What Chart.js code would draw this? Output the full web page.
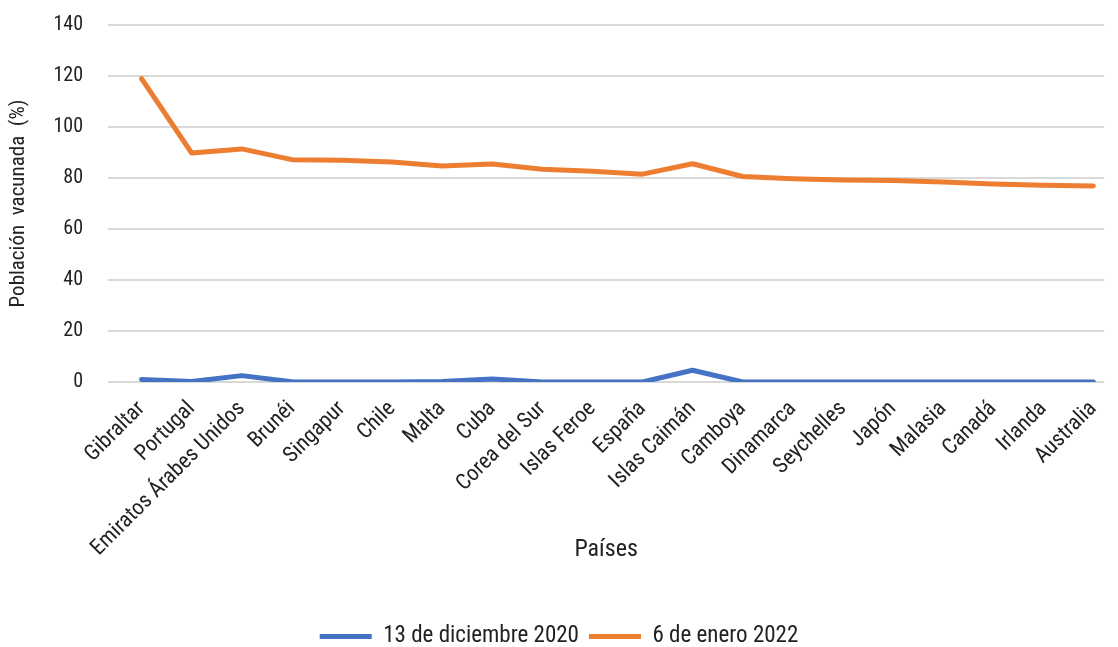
<!DOCTYPE html>
<html>
<head>
<meta charset="utf-8">
<script src="https://cdn.jsdelivr.net/npm/chart.js@4.4.1/dist/chart.umd.min.js"></script>
<style>
  html, body { margin: 0; padding: 0; background: #fff; overflow: hidden; }
  #wrap { width: 1118px; height: 647px; }
</style>
</head>
<body>
<div id="wrap"><canvas id="chart" width="1118" height="647"></canvas></div>
<script>
const countries = ["Gibraltar", "Portugal", "Emiratos Árabes Unidos", "Brunéi", "Singapur", "Chile", "Malta", "Cuba",
	"Corea del Sur", "Islas Feroe", "España", "Islas Caimán", "Camboya", "Dinamarca", "Seychelles", "Japón",
	"Malasia", "Canadá", "Irlanda", "Australia"];

// % población vacunada
const dic2020 = [1.0, 0.2, 2.5, 0.1, 0, 0, 0.2, 1.2, 0, 0, 0, 4.6, 0, 0, 0, 0, 0, 0, 0, 0];
const ene2022 = [119, 89.8, 91.4, 87.2, 87.0, 86.3, 84.7, 85.5, 83.4, 82.6, 81.5, 85.6, 80.6, 79.7, 79.2, 79.0, 78.4, 77.6, 77.2, 76.9];

const yTicks = [0, 20, 40, 60, 80, 100, 120, 140];

const FONT = "'Liberation Sans Narrow', 'Roboto Condensed', 'Arial Narrow', Roboto, sans-serif";
const TEXT = "#222222";

function toPoints(arr) {
	return arr.map((v, i) => ({ x: i, y: v }));
}

// push the legend row down a bit, closer to the bottom edge
const legendShift = {
	id: "legendShift",
	afterLayout(chart) {
		const lg = chart.legend;
		if (lg) {
			lg.top += 7;
			lg.bottom += 7;
		}
	}
};

const ctx = document.getElementById("chart").getContext("2d");
new Chart(ctx, {
	type: "line",
	plugins: [legendShift],
	data: {
		datasets: [
			{
				label: "13 de diciembre 2020",
				data: toPoints(dic2020),
				borderColor: "#4472C4",
				backgroundColor: "#4472C4",
				borderWidth: 5,
				pointRadius: 0,
				borderCapStyle: "round",
				borderJoinStyle: "round"
			},
			{
				label: "6 de enero 2022",
				data: toPoints(ene2022),
				borderColor: "#ED7D31",
				backgroundColor: "#ED7D31",
				borderWidth: 5,
				pointRadius: 0,
				borderCapStyle: "round",
				borderJoinStyle: "round"
			}
		]
	},
	options: {
		responsive: false,
		animation: false,
		layout: { padding: { top: 25, right: 0, left: 0, bottom: -4 } },
		plugins: {
			tooltip: { enabled: false },
			legend: {
				position: "bottom",
				labels: {
					font: { family: FONT, size: 23 },
					color: TEXT,
					boxWidth: 52,
					boxHeight: 5,
					padding: 10,
					generateLabels(chart) {
						return chart.data.datasets.map((ds, i) => ({
							text: ds.label,
							fillStyle: ds.borderColor,
							strokeStyle: ds.borderColor,
							lineWidth: 0,
							fontColor: TEXT,
							datasetIndex: i
						}));
					}
				}
			}
		},
		scales: {
			x: {
				type: "linear",
				min: -0.67,
				max: 19.22,
				afterBuildTicks(scale) {
					scale.ticks = countries.map((c, i) => ({ value: i }));
				},
				afterFit(scale) {
					scale.height = 226;
				},
				grid: { display: false },
				border: { display: false },
				ticks: {
					autoSkip: false,
					maxRotation: 45,
					minRotation: 45,
					padding: 6,
					color: TEXT,
					font: { family: FONT, size: 22 },
					callback: (v) => countries[v]
				},
				title: {
					display: true,
					text: "Países",
					color: TEXT,
					font: { family: FONT, size: 24 },
					padding: { top: 6, bottom: 44 }
				}
			},
			y: {
				min: 0,
				max: 140,
				afterBuildTicks(scale) {
					scale.ticks = yTicks.map((v) => ({ value: v }));
				},
				afterFit(scale) {
					scale.width = 108;
					// keep the plot top where the reference has it
					scale.paddingTop = 0;
					scale.paddingBottom = 0;
				},
				grid: { color: "#D9D9D9", lineWidth: 2, drawTicks: false },
				border: { display: false },
				ticks: {
					padding: 25,
					color: TEXT,
					font: { family: FONT, size: 20 }
				},
				title: {
					display: true,
					text: "Población  vacunada  (%)",
					color: TEXT,
					font: { family: FONT, size: 21 },
					padding: { top: 6, bottom: 0 }
				}
			}
		}
	}
});
</script>
</body>
</html>
